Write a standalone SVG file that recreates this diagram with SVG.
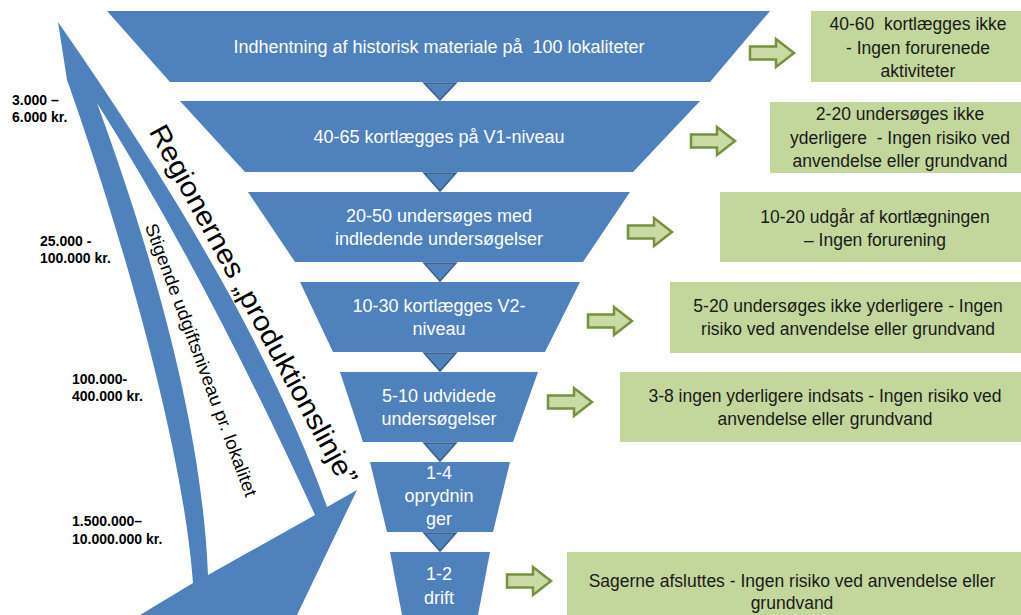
<svg xmlns="http://www.w3.org/2000/svg" xmlns:xlink="http://www.w3.org/1999/xlink" width="1021" height="615" viewBox="0 0 1021 615">
<style>
.trap{fill:#4F81BD}
.tri{fill:#4F81BD;stroke:#385D8A;stroke-width:1.5}
.box{fill:#C3D69B}
.arr{fill:#C9DAA4;stroke:#76923C;stroke-width:2.5}
.ft{font-family:"Liberation Sans",Arial,sans-serif;font-size:18px;fill:#FFFFFF;text-anchor:middle}
.gt{font-family:"Liberation Sans",Arial,sans-serif;font-size:17.5px;fill:#1A1A1A;text-anchor:middle}
.lt{font-family:"Liberation Sans",Arial,sans-serif;font-size:14px;font-weight:bold;fill:#000000}
.rt{font-family:"Liberation Sans",Arial,sans-serif;fill:#000000;text-anchor:middle}
</style>
<defs>
<path id="garrow" class="arr" d="M0,-6.5 H26 V-14 L44,0 L26,14 V6.5 H0 Z"/>
</defs>
<rect width="1021" height="615" fill="#FFFFFF"/>

<g id="prodline">
<path class="trap" fill-rule="evenodd" d="M58,22 Q256,306 327,507 L357,490 L297,615 L140,615 L145,612 L193,583 C182,433 110,200 67,80 Z M97,103 C152,253 202,425 208,575 L315,515 Q203,271 97,103 Z"/>
<text class="rt" font-size="28" textLength="405" lengthAdjust="spacingAndGlyphs" transform="translate(253,305) rotate(61.5)" x="0" y="9">Regionernes „produktionslinje”</text>
<text class="rt" font-size="18" textLength="290" lengthAdjust="spacingAndGlyphs" transform="translate(201,360) rotate(69.6)" x="0" y="6">Stigende udgiftsniveau pr. lokalitet</text>
</g>

<g id="costs">
<text class="lt" x="12" y="105">3.000 –</text>
<text class="lt" x="12" y="122">6.000 kr.</text>
<text class="lt" x="40" y="246">25.000 -</text>
<text class="lt" x="40" y="263">100.000 kr.</text>
<text class="lt" x="72" y="384">100.000-</text>
<text class="lt" x="72" y="401">400.000 kr.</text>
<text class="lt" x="72" y="526">1.500.000–</text>
<text class="lt" x="72" y="544">10.000.000 kr.</text>
</g>

<g id="step1"><polygon class="trap" points="107,11 770,11 710,82 170,82"/><text class="ft" x="439" y="53" xml:space="preserve">Indhentning af historisk materiale på  100 lokaliteter</text></g>
<g id="step2"><polygon class="trap" points="180,101 700,101 633,172 245,172"/><text class="ft" x="439" y="143">40-65 kortlægges på V1-niveau</text></g>
<g id="step3"><polygon class="trap" points="248,192 630,192 583,262 295,262"/><text class="ft" x="439" y="222">20-50 undersøges med</text><text class="ft" x="439" y="245">indledende undersøgelser</text></g>
<g id="step4"><polygon class="trap" points="300,282 580,282 545,352 333,352"/><text class="ft" x="439" y="312">10-30 kortlægges V2-</text><text class="ft" x="439" y="335">niveau</text></g>
<g id="step5"><polygon class="trap" points="340,372 538,372 513,442 363,442"/><text class="ft" x="439" y="402">5-10 udvidede</text><text class="ft" x="439" y="425">undersøgelser</text></g>
<g id="step6"><polygon class="trap" points="370,462 510,462 493,532 387,532"/><text class="ft" x="439" y="479">1-4</text><text class="ft" x="439" y="502">oprydnin</text><text class="ft" x="439" y="525">ger</text></g>
<g id="step7"><polygon class="trap" points="390,552 490,552 478,615 402,615"/><text class="ft" x="439" y="580">1-2</text><text class="ft" x="439" y="604">drift</text></g>

<g id="result1"><rect class="box" x="811" y="11" width="210" height="71"/><text class="gt" x="918" y="30" xml:space="preserve">40-60  kortlægges ikke</text><text class="gt" x="918" y="54">- Ingen forurenede</text><text class="gt" x="918" y="77">aktiviteter</text></g>
<g id="result2"><rect class="box" x="770" y="102" width="251" height="71"/><text class="gt" x="900" y="120">2-20 undersøges ikke</text><text class="gt" x="900" y="144" xml:space="preserve">yderligere  - Ingen risiko ved</text><text class="gt" x="900" y="167">anvendelse eller grundvand</text></g>
<g id="result3"><rect class="box" x="720" y="192" width="301" height="70"/><text class="gt" x="875" y="223">10-20 udgår af kortlægningen</text><text class="gt" x="875" y="246">– Ingen forurening</text></g>
<g id="result4"><rect class="box" x="670" y="282" width="351" height="71"/><text class="gt" x="848" y="312">5-20 undersøges ikke yderligere - Ingen</text><text class="gt" x="848" y="335">risiko ved anvendelse eller grundvand</text></g>
<g id="result5"><rect class="box" x="620" y="372" width="401" height="70"/><text class="gt" x="825" y="402">3-8 ingen yderligere indsats - Ingen risiko ved</text><text class="gt" x="825" y="425">anvendelse eller grundvand</text></g>
<g id="result6"><rect class="box" x="567" y="552" width="454" height="63"/><text class="gt" x="792" y="587">Sagerne afsluttes - Ingen risiko ved anvendelse eller</text><text class="gt" x="792" y="609">grundvand</text></g>

<g id="connectors">
<polygon class="tri" points="424,83 456,83 440,100"/>
<polygon class="tri" points="424,173 456,173 440,191"/>
<polygon class="tri" points="424,263 456,263 440,281"/>
<polygon class="tri" points="424,353 456,353 440,371"/>
<polygon class="tri" points="424,443 456,443 440,461"/>
<polygon class="tri" points="424,533 456,533 440,551"/>
<use xlink:href="#garrow" transform="translate(750,53)"/>
<use xlink:href="#garrow" transform="translate(691,141)"/>
<use xlink:href="#garrow" transform="translate(628,232)"/>
<use xlink:href="#garrow" transform="translate(588,321)"/>
<use xlink:href="#garrow" transform="translate(548,402)"/>
<use xlink:href="#garrow" transform="translate(507,581)"/>
</g>
</svg>
